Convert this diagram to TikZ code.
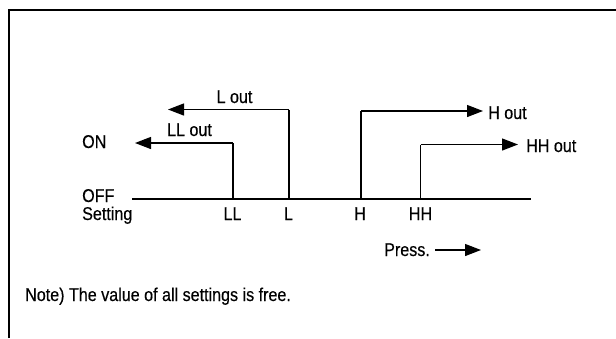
\documentclass[tikz,border=0pt]{standalone}
\usepackage{fontspec}
\setmainfont[FakeStretch=0.87,FakeBold=0.4]{Liberation Sans}
\usetikzlibrary{arrows.meta}
\begin{document}
\begin{tikzpicture}[x=1pt,y=-1pt,
  lbl/.style={inner sep=0pt,anchor=base,font=\fontsize{18.5}{20}\selectfont},
  lblw/.style={lbl,anchor=base west},
  axisline/.style={line width=2.6pt},
  riser/.style={line width=1.6pt},
  outarrow/.style={line width=1.3pt,-{Triangle[length=16pt,width=12pt]}},
  frameline/.style={line width=1.8pt}]
\useasboundingbox (0,0) rectangle (616,338);
% frame
\coordinate (fbl) at (9,338);
\coordinate (ftl) at (9,10);
\coordinate (ftr) at (616,10);
\draw[frameline] (fbl) -- (ftl) -- (ftr);
% axis
\coordinate (axs) at (132,199);
\coordinate (axe) at (531,199);
\draw[axisline] (axs) -- (axe);
% side labels
\node[lblw] (on) at (82,148) {ON};
\node[lblw] (off) at (82,202) {OFF};
\node[lblw] (set) at (82,220) {Setting};
% setting labels
\node[lbl] (tLL) at (232.5,220) {LL};
\node[lbl] (tL) at (288.5,220) {L};
\node[lbl] (tH) at (360,220) {H};
\node[lbl] (tHH) at (420.5,220) {HH};
% LL
\coordinate (llb) at (233,199);
\coordinate (llt) at (233,143);
\coordinate (lle) at (135,143);
\draw[riser] (llb) -- (llt);
\draw[outarrow] (llt) -- (lle);
\node[lbl] (llout) at (189.5,136) {LL out};
% L
\coordinate (lb) at (289,199);
\coordinate (lt) at (289,109.5);
\coordinate (le) at (168,109.5);
\draw[riser] (lb) -- (lt);
\draw[outarrow] (lt) -- (le);
\node[lbl] (lout) at (234.5,103) {L out};
% H
\coordinate (hb) at (361,199);
\coordinate (ht) at (361,111);
\coordinate (he) at (483,111);
\draw[riser] (hb) -- (ht);
\draw[outarrow] (ht) -- (he);
\node[lblw] (hout) at (488,119) {H out};
% HH
\coordinate (hhb) at (420.5,199);
\coordinate (hht) at (420.5,144.5);
\coordinate (hhe) at (518,144.5);
\draw[riser] (hhb) -- (hht);
\draw[outarrow] (hht) -- (hhe);
\node[lblw] (hhout) at (526,152) {HH out};
% Press
\node[lblw] (press) at (384,256) {Press.};
\coordinate (pe) at (481,250);
\draw[outarrow] (press.east |- pe) ++(5,0) coordinate (ps) (ps) -- (pe);
% note
\node[lblw] (note) at (25,301) {Note) The value of all settings is free.};
\end{tikzpicture}
\end{document}
